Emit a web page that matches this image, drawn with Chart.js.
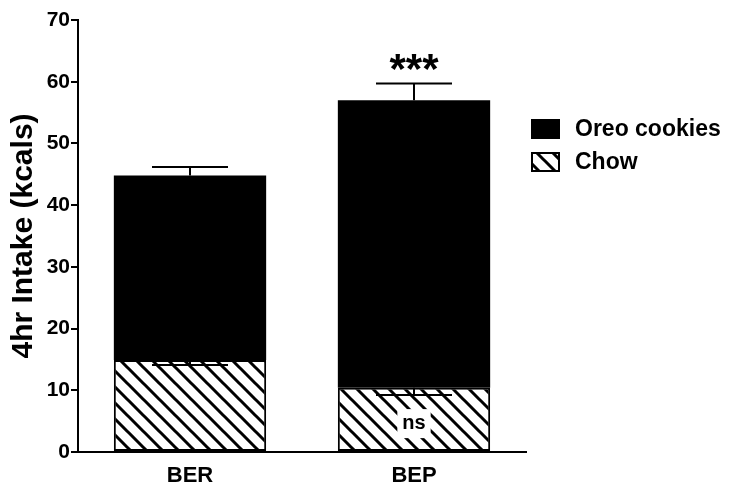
<!DOCTYPE html>
<html>
<head>
<meta charset="utf-8">
<script src="https://cdn.jsdelivr.net/npm/chart.js@4"></script>
<style>
html,body{margin:0;padding:0;background:#fff;}
#wrap{width:736px;height:492px;position:relative;}
</style>
</head>
<body>
<div id="wrap"><canvas id="c" width="736" height="492"></canvas></div>
<script>
const categories = ['BER', 'BEP'];
const chowValues = [14.9, 10.4];
const oreoValues = [29.9, 46.6];
const chowErrDown = [0.8, 1.15];
const oreoErrUp = [1.4, 2.7];
const seriesLabels = ['Oreo cookies', 'Chow'];
const yTicks = [0, 10, 20, 30, 40, 50, 60, 70];
const sigLabels = ['', '***'];
const chowSigLabels = ['', 'ns'];

const FONT = '"Liberation Sans", Arial, sans-serif';

function makeHatch() {
  const s = 16;
  const t = document.createElement('canvas');
  t.width = s; t.height = s;
  const g = t.getContext('2d');
  g.fillStyle = '#fff';
  g.fillRect(0, 0, s, s);
  g.strokeStyle = '#000';
  g.lineWidth = 3;
  g.beginPath();
  g.moveTo(-4, -4); g.lineTo(s + 4, s + 4);
  g.moveTo(-4 - s, -4); g.lineTo(4, s + 4);
  g.moveTo(s - 4, -4); g.lineTo(2 * s + 4, s + 4);
  g.stroke();
  return g.createPattern(t, 'repeat');
}
const ctx0 = document.getElementById('c').getContext('2d');
const hatch = makeHatch();

const extras = {
  id: 'extras',
  afterDatasetsDraw(chart) {
    const ctx = chart.ctx;
    const x = chart.scales.x, y = chart.scales.y;
    ctx.save();
    ctx.strokeStyle = '#000';
    ctx.lineWidth = 2;
    const capHalf = 38;
    categories.forEach((c, i) => {
      const cx = x.getPixelForValue(i);
      // chow error (downward)
      const cTop = chowValues[i];
      const yA = y.getPixelForValue(cTop), yB = y.getPixelForValue(cTop - chowErrDown[i]);
      ctx.beginPath();
      ctx.moveTo(cx, yA); ctx.lineTo(cx, yB);
      ctx.moveTo(cx - capHalf, yB); ctx.lineTo(cx + capHalf, yB);
      ctx.stroke();
      // oreo error (upward)
      const tot = chowValues[i] + oreoValues[i];
      const y1 = y.getPixelForValue(tot), y2 = y.getPixelForValue(tot + oreoErrUp[i]);
      ctx.beginPath();
      ctx.moveTo(cx, y1); ctx.lineTo(cx, y2);
      ctx.moveTo(cx - capHalf, y2); ctx.lineTo(cx + capHalf, y2);
      ctx.stroke();
      // significance
      if (sigLabels[i]) {
        ctx.fillStyle = '#000';
        ctx.font = 'bold 42px ' + FONT;
        ctx.textAlign = 'center';
        ctx.textBaseline = 'middle';
        ctx.fillText(sigLabels[i], cx, y2 - 12);
      }
      if (chowSigLabels[i]) {
        const yy = y.getPixelForValue(chowValues[i] * 0.45);
        ctx.font = 'bold 20px ' + FONT;
        const w = ctx.measureText(chowSigLabels[i]).width;
        ctx.fillStyle = '#fff';
        ctx.fillRect(cx - w / 2 - 5, yy - 14, w + 10, 29);
        ctx.fillStyle = '#000';
        ctx.textAlign = 'center';
        ctx.textBaseline = 'middle';
        ctx.fillText(chowSigLabels[i], cx, yy);
      }
    });
    // legend
    const lx = 531, ly = [129, 162];
    const fills = ['#000', hatch];
    ctx.font = 'bold 23px ' + FONT;
    ctx.textAlign = 'left';
    ctx.textBaseline = 'middle';
    seriesLabels.forEach((lab, k) => {
      ctx.fillStyle = fills[k];
      ctx.fillRect(lx, ly[k] - 10, 29, 20);
      ctx.lineWidth = 2;
      ctx.strokeStyle = '#000';
      ctx.strokeRect(lx + 1, ly[k] - 9, 27, 18);
      ctx.fillStyle = '#000';
      ctx.fillText(lab, lx + 44, ly[k] + 1);
    });
    ctx.restore();
  }
};

new Chart(ctx0, {
  type: 'bar',
  data: {
    labels: categories,
    datasets: [
      {
        label: seriesLabels[1],
        data: chowValues,
        backgroundColor: hatch,
        borderColor: '#000',
        borderWidth: 2,
        borderSkipped: false,
        stack: 's'
      },
      {
        label: seriesLabels[0],
        data: oreoValues,
        backgroundColor: '#000',
        borderColor: '#000',
        borderWidth: 0,
        stack: 's'
      }
    ]
  },
  options: {
    responsive: false,
    animation: false,
    devicePixelRatio: 1,
    layout: { padding: { top: 20, right: 210, left: 0, bottom: 0 } },
    plugins: { legend: { display: false }, tooltip: { enabled: false } },
    datasets: { bar: { barPercentage: 0.68, categoryPercentage: 1.0 } },
    scales: {
      x: {
        stacked: true,
        grid: { display: false, drawTicks: false },
        border: { display: true, color: '#000', width: 2 },
        ticks: { color: '#000', font: { family: FONT, size: 22, weight: 'bold' }, padding: 11 },
        afterFit(s) { s.height = 40; }
      },
      y: {
        stacked: true,
        min: 0, max: 70,
        afterBuildTicks(s) { s.ticks = yTicks.map(v => ({ value: v })); },
        grid: { drawOnChartArea: false, drawTicks: true, tickLength: 7, color: '#000', lineWidth: 2 },
        border: { display: true, color: '#000', width: 2 },
        ticks: { color: '#000', font: { family: FONT, size: 21, weight: 'bold' }, padding: 1 },
        title: { display: true, text: '4hr Intake (kcals)', color: '#000', font: { family: FONT, size: 30, weight: 'bold' }, padding: { top: 6, bottom: 0 } },
        afterFit(s) { s.width = 78; }
      }
    }
  },
  plugins: [extras]
});
</script>
</body>
</html>
